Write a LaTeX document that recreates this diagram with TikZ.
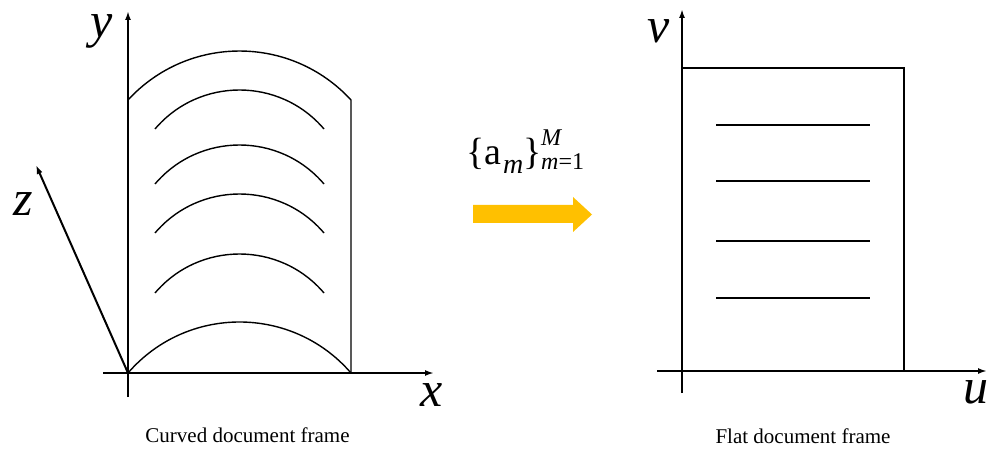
\documentclass[tikz,border=0pt]{standalone}
\usepackage{fontspec}
\setmainfont{Liberation Serif}
\usetikzlibrary{arrows.meta}
\definecolor{arrorange}{HTML}{FFC000}
\tikzset{
  axisline/.style={line width=2pt,-{Latex[length=9pt,width=6pt]}},
  plainaxis/.style={line width=2pt},
  docline/.style={line width=1.4pt},
  axlabel/.style={inner sep=0pt,anchor=base,font=\fontsize{50}{50}\selectfont\itshape},
  caption/.style={inner sep=0pt,anchor=base,font=\fontsize{21}{21}\selectfont},
  mathbig/.style={inner sep=0pt,anchor=base west,font=\fontsize{38}{38}\selectfont},
  mathsmall/.style={inner sep=0pt,anchor=base west,font=\fontsize{24}{24}\selectfont},
}
\begin{document}
\begin{tikzpicture}[x=1pt,y=-1pt]
\useasboundingbox (0,0) rectangle (1000,462);
% ---------- left: curved frame ----------
\coordinate (O1) at (128,373);
\coordinate (ytip) at (128,11);
\coordinate (ybot) at (128,397);
\coordinate (xleft) at (103,373);
\coordinate (xtip) at (434,373);
\coordinate (ztip) at (36,165);
\draw[plainaxis] (ybot) -- (O1);
\draw[axisline] (O1) -- (ytip);
\draw[plainaxis] (xleft) -- (O1);
\draw[axisline] (O1) -- (xtip);
\draw[axisline] (O1) -- (ztip);
\node[axlabel] (ylab) at (102,38) {y};
\node[axlabel] (zlab) at (23,216) {z};
\node[axlabel] (xlab) at (432,406) {x};
% frame outline
\draw[docline] (351,373) -- (351,100)
  .. controls (291,34.7) and (188,34.7) .. (128,100);
\draw[docline] (128,373) .. controls (186.8,305) and (292.2,305) .. (351,373);
% text lines (arcs)
\foreach \e in {129,184,233,293}{
  \draw[docline] (155,\e) .. controls (199.3,\e-52) and (279.7,\e-52) .. (324,\e);
}
\node[caption] (cap1) at (247.5,442) {Curved document frame};
% ---------- middle: transformation ----------
\node[mathbig] (lb) at (466,165) {\{a};
\node[mathsmall,font=\fontsize{28}{28}\selectfont\itshape] (subm) at (503,174) {m};
\node[mathbig] (rb) at (523,165) {\}};
\node[mathsmall,font=\fontsize{24}{24}\selectfont\itshape] (supM) at (541,146) {M};
\node[mathsmall] (subrange) at (541,170) {\textit{m}=1};
\fill[arrorange] (473,205) -- (573,205) -- (573,197) -- (592,214.5)
  -- (573,232) -- (573,223) -- (473,223) -- cycle;
% ---------- right: flat frame ----------
\coordinate (O2) at (682,371);
\coordinate (vtip) at (682,9);
\coordinate (vbot) at (682,393);
\coordinate (uleft) at (657,371);
\coordinate (utip) at (987,371);
\draw[plainaxis] (vbot) -- (O2);
\draw[axisline] (O2) -- (vtip);
\draw[plainaxis] (uleft) -- (O2);
\draw[axisline] (O2) -- (utip);
\node[axlabel] (vlab) at (659,43) {v};
\node[axlabel] (ulab) at (976,403) {u};
\draw[docline] (682,68) -- (904,68) -- (904,371);
\foreach \e in {125,181,241,298}{
  \draw[docline] (716,\e) -- (870,\e);
}
\node[caption] (cap2) at (803,443) {Flat document frame};
\end{tikzpicture}
\end{document}
